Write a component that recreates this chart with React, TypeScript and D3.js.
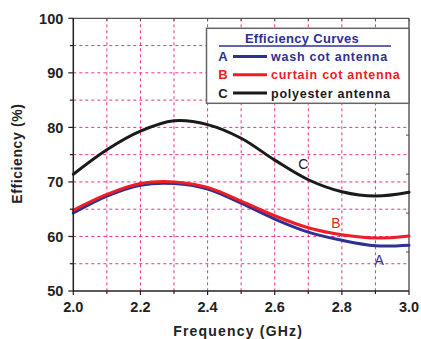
import React from "react";
import * as d3 from "d3";

// Frequency samples (GHz) and measured efficiency (%) for each antenna
const freqs = [2.0, 2.1, 2.2, 2.3, 2.4, 2.5, 2.6, 2.7, 2.8, 2.9, 3.0];
const washCot = [64.3, 67.4, 69.4, 69.7, 68.7, 66.1, 63.2, 60.8, 59.3, 58.3, 58.4];
const curtainCot = [64.8, 67.7, 69.7, 70.0, 69.0, 66.5, 63.8, 61.6, 60.3, 59.7, 60.1];
const polyester = [71.4, 75.9, 79.3, 81.2, 80.5, 78.0, 74.0, 70.4, 68.2, 67.4, 68.1];

const xTicks = [2.0, 2.2, 2.4, 2.6, 2.8, 3.0];
const yTicks = [50, 60, 70, 80, 90, 100];

const seriesLabels = ["A", "B", "C"];
const seriesNames = ["wash cot antenna", "curtain cot antenna", "polyester antenna"];
const seriesColors = ["#2e3192", "#ee1c25", "#1a1a1a"];
const legendTitle = "Efficiency Curves";

const W = 421;
const H = 339;
const m = { left: 73.3, right: 409, top: 18.3, bottom: 291 };

export default function App() {
  const x = d3.scaleLinear().domain([2.0, 3.0]).range([m.left, m.right]);
  const y = d3.scaleLinear().domain([50, 100]).range([m.bottom, m.top]);

  const seriesValues = [washCot, curtainCot, polyester];
  const line = d3
    .line<number>()
    .x((_, i) => x(freqs[i]))
    .y((v) => y(v))
    .curve(d3.curveCatmullRom.alpha(0.5));

  const gridX = d3.range(1, 10).map((i) => 2.0 + i * 0.1);
  const gridY = d3.range(55, 100, 5);
  const minorX = d3.range(0, 11).map((i) => 2.0 + i * 0.1);
  const minorY = d3.range(50, 101, 5);
  const rightTicks = d3.range(1, 7).map((k) => 50 + (50 * k) / 7);

  const font = "'Liberation Sans', Arial, sans-serif";
  const gridColor = "#ec2f8f";

  // Curve annotation labels placed next to each curve
  const annot = [
    { t: "A", f: 2.911, v: 54.7, c: seriesColors[0] },
    { t: "B", f: 2.782, v: 61.5, c: seriesColors[1] },
    { t: "C", f: 2.685, v: 72.3, c: seriesColors[2] },
  ];

  const lg = { x: 206.5, y: 28.3, w: 202.5, h: 75 };

  return (
    <svg
      width={W}
      height={H}
      style={{ position: "absolute", left: 0, top: 0, background: "#fff" }}
      fontFamily={font}
    >
      {/* grid */}
      {gridX.map((g) => (
        <line key={"gx" + g} x1={x(g)} x2={x(g)} y1={m.top} y2={m.bottom}
          stroke={gridColor} strokeWidth={1} strokeDasharray="3,3" />
      ))}
      {gridY.map((g) => (
        <line key={"gy" + g} x1={m.left} x2={m.right} y1={y(g)} y2={y(g)}
          stroke={gridColor} strokeWidth={1} strokeDasharray="3,3" />
      ))}

      {/* frame: top and right */}
      <line x1={m.left} x2={m.right} y1={m.top} y2={m.top} stroke="#555" strokeWidth={1.3} />
      <line x1={m.right} x2={m.right} y1={m.top} y2={m.bottom} stroke="#444" strokeWidth={1.3} />
      {minorX.map((g) => (
        <line key={"tt" + g} x1={x(g)} x2={x(g)} y1={m.top} y2={m.top + 3} stroke="#555" strokeWidth={1} />
      ))}
      {rightTicks.map((g) => (
        <line key={"rt" + g} x1={m.right - 3} x2={m.right} y1={y(g)} y2={y(g)} stroke="#555" strokeWidth={1} />
      ))}

      {/* curves */}
      {seriesValues.map((vals, i) => (
        <path key={"s" + i} d={line(vals) || ""} fill="none" stroke={seriesColors[i]}
          strokeWidth={3} strokeLinejoin="round" strokeLinecap="round" />
      ))}

      {/* annotations */}
      {annot.map((a) => (
        <text key={a.t} x={x(a.f)} y={y(a.v)} fill={a.c} fontSize={14} textAnchor="middle">
          {a.t}
        </text>
      ))}

      {/* left & bottom axes */}
      <line x1={m.left} x2={m.left} y1={m.top} y2={m.bottom + 0.5} stroke="#222" strokeWidth={1.5} />
      <line x1={m.left} x2={m.right} y1={m.bottom} y2={m.bottom} stroke="#222" strokeWidth={1.5} />
      {minorY.map((g) => (
        <line key={"ly" + g} x1={m.left - (g % 10 === 0 ? 5 : 3.5)} x2={m.left} y1={y(g)} y2={y(g)}
          stroke="#222" strokeWidth={1.2} />
      ))}
      {minorX.map((g, i) => (
        <line key={"bx" + g} x1={x(g)} x2={x(g)} y1={m.bottom} y2={m.bottom + (i % 2 === 0 ? 4 : 3)}
          stroke="#222" strokeWidth={1.2} />
      ))}
      {yTicks.map((t) => (
        <text key={"yt" + t} x={m.left - 10} y={y(t)} dy="0.36em" textAnchor="end"
          fontSize={14.5} fontWeight="bold" fill="#222">
          {t}
        </text>
      ))}
      {xTicks.map((t) => (
        <text key={"xt" + t} x={x(t)} y={312} textAnchor="middle"
          fontSize={14.5} fontWeight="bold" fill="#222">
          {t.toFixed(1)}
        </text>
      ))}

      {/* axis titles */}
      <text x={(m.left + m.right) / 2 - 3} y={336} textAnchor="middle" fontSize={14}
        fontWeight="bold" letterSpacing={1.2} fill="#222">
        Frequency (GHz)
      </text>
      <text transform={`translate(22,${(m.top + m.bottom) / 2 - 1}) rotate(-90)`} textAnchor="middle"
        fontSize={14} fontWeight="bold" letterSpacing={0.6} fill="#222">
        Efficiency (%)
      </text>

      {/* legend */}
      <rect x={lg.x} y={lg.y} width={lg.w} height={lg.h} fill="#fff" stroke="#666" strokeWidth={1.5} />
      <text x={302} y={43} textAnchor="middle" fontSize={13} fontWeight="bold"
        letterSpacing={0.3} fill={seriesColors[0]}>
        {legendTitle}
      </text>
      <line x1={219} x2={391} y1={46} y2={46} stroke={seriesColors[0]} strokeWidth={1.5} />
      {seriesNames.map((name, i) => {
        const cy = 56.5 + i * 18.3;
        return (
          <g key={name}>
            <text x={223} y={cy} dy="0.36em" textAnchor="middle" fontSize={13}
              fontWeight="bold" fill={seriesColors[i]}>
              {seriesLabels[i]}
            </text>
            <line x1={233} x2={267} y1={cy} y2={cy} stroke={seriesColors[i]} strokeWidth={3} />
            <text x={271} y={cy} dy="0.36em" fontSize={12.5} fontWeight="bold"
              letterSpacing={0.75} fill={seriesColors[i]}>
              {name}
            </text>
          </g>
        );
      })}
    </svg>
  );
}
